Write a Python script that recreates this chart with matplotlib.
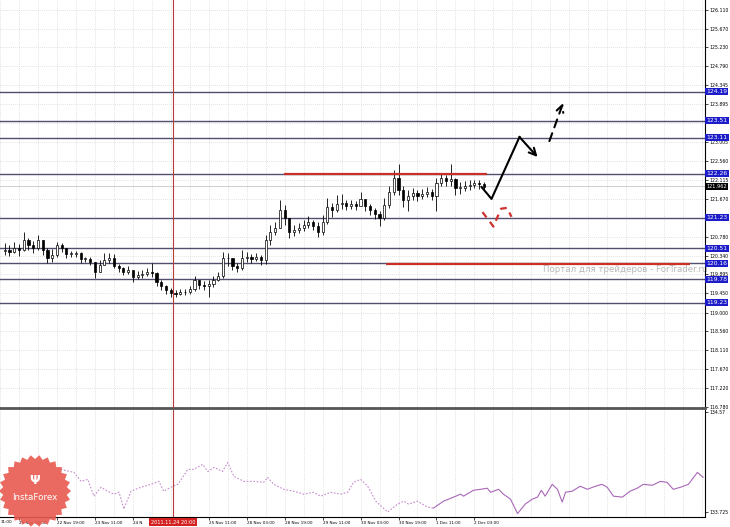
import numpy as np
import matplotlib.pyplot as plt
from matplotlib.patches import Polygon

W, H = 730, 527

# 2-hour bars, bar 0 = 22 Nov 03:00
first_open = 120.45
bar_close = [
    120.47, 120.42, 120.52, 120.47, 120.71, 120.59, 120.52, 120.71, 120.47, 120.28,
    120.35, 120.59, 120.52, 120.38, 120.38, 120.40, 120.26, 120.26, 120.19, 119.95,
    120.12, 120.24, 120.28, 120.09, 120.05, 119.95, 120.00, 119.84, 119.88, 119.91,
    119.95, 119.93, 119.72, 119.62, 119.53, 119.46, 119.44, 119.48, 119.48, 119.55,
    119.77, 119.65, 119.62, 119.67, 119.77, 119.86, 120.28, 120.28, 120.09, 120.05,
    120.28, 120.31, 120.26, 120.31, 120.24, 120.71, 120.89, 120.99, 121.41, 121.22,
    120.89, 120.94, 120.99, 121.06, 121.13, 121.03, 120.89, 121.13, 121.48, 121.41,
    121.55, 121.57, 121.50, 121.55, 121.50, 121.67, 121.50, 121.41, 121.32, 121.22,
    121.53, 121.83, 122.16, 121.88, 121.65, 121.74, 121.81, 121.74, 121.79, 121.83,
    121.74, 122.04, 122.16, 122.09, 122.14, 121.93, 121.93, 121.97, 122.00, 122.04,
    122.02, 121.96]
bar_high = [
    120.63, 120.59, 120.66, 120.61, 120.89, 120.75, 120.68, 120.82, 120.63, 120.52,
    120.49, 120.66, 120.63, 120.47, 120.45, 120.45, 120.42, 120.31, 120.31, 120.19,
    120.24, 120.40, 120.40, 120.38, 120.14, 120.07, 120.09, 120.00, 119.98, 120.00,
    120.05, 120.16, 119.95, 119.77, 119.65, 119.58, 119.53, 119.55, 119.55, 119.62,
    119.86, 119.77, 119.74, 119.77, 119.86, 119.95, 120.42, 120.40, 120.24, 120.16,
    120.47, 120.42, 120.38, 120.40, 120.35, 120.82, 121.06, 121.13, 121.65, 121.53,
    121.22, 121.06, 121.10, 121.18, 121.27, 121.18, 121.13, 121.29, 121.69, 121.57,
    121.76, 121.79, 121.65, 121.65, 121.62, 121.83, 121.65, 121.55, 121.46, 121.39,
    121.69, 121.97, 122.35, 122.49, 121.97, 121.88, 121.93, 121.88, 121.90, 121.95,
    121.90, 122.16, 122.28, 122.23, 122.49, 122.16, 122.07, 122.09, 122.11, 122.11,
    122.11, 122.07]
bar_low = [
    120.35, 120.33, 120.40, 120.33, 120.45, 120.47, 120.40, 120.47, 120.35, 120.16,
    120.19, 120.31, 120.42, 120.28, 120.31, 120.31, 120.16, 120.19, 120.12, 119.81,
    120.00, 120.12, 120.16, 120.05, 119.95, 119.88, 119.91, 119.72, 119.79, 119.81,
    119.86, 119.84, 119.62, 119.53, 119.44, 119.37, 119.37, 119.41, 119.41, 119.44,
    119.51, 119.55, 119.53, 119.37, 119.60, 119.74, 119.81, 120.09, 120.00, 119.95,
    120.00, 120.19, 120.16, 120.21, 120.12, 120.14, 120.59, 120.82, 120.99, 121.06,
    120.75, 120.80, 120.87, 120.92, 120.99, 120.94, 120.78, 120.82, 121.08, 121.25,
    121.36, 121.43, 121.41, 121.43, 121.41, 121.53, 121.39, 121.29, 121.20, 121.03,
    121.18, 121.46, 121.76, 121.76, 121.48, 121.39, 121.65, 121.62, 121.67, 121.72,
    121.65, 121.39, 121.97, 121.97, 121.97, 121.76, 121.79, 121.86, 121.88, 121.93,
    121.90, 121.88]
bar_start = -3

levels = [124.19, 123.51, 123.11, 122.26, 121.23, 120.51, 120.16, 119.78, 119.23]
last_price = 121.962

price_ticks = [126.110, 125.670, 125.230, 124.790, 124.345, 123.895, 123.450, 123.005,
               122.560, 122.115, 121.670, 121.230, 120.780, 120.340, 119.895, 119.450,
               119.000, 118.560, 118.110, 117.670, 117.220, 116.780]
# labels fully hidden behind the level boxes in the screenshot
hidden_ticks = [123.450, 121.230]

time_ticks = [0, 8, 16, 24, 32, 40, 48, 56, 64, 72, 80, 88, 96]
time_labels = ["22 Nov 03:00", "22 Nov 19:00", "23 Nov 11:00", "24 N",
               "", "25 Nov 11:00", "28 Nov 03:00", "28 Nov 19:00",
               "29 Nov 11:00", "30 Nov 03:00", "30 Nov 19:00", "1 Dec 11:00",
               "2 Dec 03:00"]
marker_bar = 32.5

# lower panel indicator
ind_x_dot = [8.8, 11.6, 13.1, 14.5, 15.8, 17.3, 18.7, 20.0, 21.1, 22.1, 23.6, 25.7,
             27.8, 29.5, 30.5, 32.0, 33.5, 35.6, 36.8, 38.7, 39.8, 41.1, 42.9, 44.0,
             45.3, 47.4, 49.5, 51.6, 52.4, 53.7, 55.8, 57.9, 60.0, 62.1, 63.6, 65.7,
             67.8, 69.3, 70.5, 72.0, 73.5, 75.2, 77.7, 79.8, 81.1, 82.1, 84.0, 86.1, 87.4]
ind_y_dot = [134.085, 134.060, 133.984, 134.001, 133.859, 133.934, 133.901, 133.876,
             133.892, 133.750, 133.901, 133.934, 133.959, 133.984, 133.901, 133.934,
             133.959, 134.085, 134.085, 134.127, 134.068, 134.102, 134.068, 134.143,
             134.026, 133.984, 133.984, 133.976, 134.018, 133.959, 133.917, 133.901,
             133.876, 133.892, 133.859, 133.892, 133.876, 133.892, 133.976, 134.001,
             133.943, 133.817, 133.725, 133.792, 133.817, 133.792, 133.817, 133.767,
             133.759]
ind_x_sol = [87.4, 89.5, 91.6, 93.1, 93.7, 95.8, 97.3, 98.7, 99.4, 101.1, 102.1, 103.6,
             105.1, 106.7, 108.2, 109.3, 110.1, 110.9, 112.4, 113.5, 114.5, 115.2, 116.6,
             118.3, 119.8, 121.5, 122.9, 124.0, 125.3, 127.2, 128.8, 130.3, 131.6, 133.5,
             135.2, 136.6, 137.9, 139.4, 141.1, 143.0, 144.2]
ind_y_sol = [133.759, 133.817, 133.851, 133.876, 133.859, 133.909, 133.917, 133.926,
             133.892, 133.917, 133.876, 133.834, 133.712, 133.792, 133.834, 133.851,
             133.909, 133.859, 133.959, 133.917, 133.809, 133.892, 133.901, 133.943,
             133.917, 133.943, 133.959, 133.934, 133.859, 133.851, 133.901, 133.926,
             133.959, 133.951, 133.984, 133.976, 133.917, 133.934, 133.959, 134.060,
             134.018]

# forecast drawings
arrow_x = [97.5, 99.6, 105.5, 109.3]
arrow_y = [121.95, 121.67, 123.125, 122.655]
dash_x = [111.8, 114.7]
dash_y = [123.03, 123.925]
red_path_x = [97.7, 100.0, 101.6, 102.9, 103.8]
red_path_y = [121.36, 121.02, 121.44, 121.46, 121.25]
red_top = (55.8, 98.7, 122.25)
red_bottom = (77.3, 141.5, 120.14)

xmin, xmax = -3.8, 144.6

fig = plt.figure(figsize=(W / 100, H / 100), dpi=100)
ax = fig.add_axes([0, (H - 408) / H, 705 / W, 408 / H])
ax2 = fig.add_axes([0, (H - 517) / H, 705 / W, 107 / H])

grid_kw = dict(color='#c8c8c8', linestyle=(0, (1, 2)), linewidth=0.5)

# ---- main panel
ax.set_xlim(xmin, xmax)
ax.set_ylim(116.756, 126.345)
ax.yaxis.tick_right()
ax.set_yticks(price_ticks)
ax.set_yticklabels(["" if v in hidden_ticks else "%.3f" % v for v in price_ticks])
ax.tick_params(axis='y', labelsize=3.3, length=2, pad=1.5, width=0.5)
ax.set_xticks(time_ticks)
ax.set_xticks(np.arange(-4, 145, 4), minor=True)
ax.tick_params(axis='x', which='both', length=0, labelbottom=False)
ax.grid(True, axis='y', **grid_kw)
ax.grid(True, axis='x', which='both', **grid_kw)
ax.set_axisbelow(True)
for s in ['left', 'top']:
    ax.spines[s].set_visible(False)
ax.spines['right'].set_linewidth(0.8)
ax.spines['bottom'].set_linewidth(2)
ax.spines['bottom'].set_color('#555555')

for lv in levels:
    ax.axhline(lv, color='#50506e', lw=1.0, zorder=2)
ax.axhline(last_price, color='#c8c8c8', lw=0.6, zorder=2)

# candles
xs = np.arange(bar_start, bar_start + len(bar_close))
opens = [first_open] + bar_close[:-1]
for x, o, h, l, c in zip(xs, opens, bar_high, bar_low, bar_close):
    hi = max(h, o, c)
    lo = min(l, o, c)
    ax.vlines(x, lo, hi, color='black', lw=0.6, zorder=3)
    bottom = min(o, c)
    height = max(abs(c - o), 0.012)
    face = 'white' if c >= o else 'black'
    ax.bar(x, height, bottom=bottom, width=0.45, color=face, edgecolor='black',
           linewidth=0.5, zorder=4)

ax.axvline(marker_bar, color='#b83a3a', lw=0.8, zorder=3)
ax2.axvline(marker_bar, color='#b83a3a', lw=0.8, zorder=3)

# red support / resistance
ax.hlines(red_top[2], red_top[0], red_top[1], color='#c83028', lw=1.6, zorder=5)
ax.hlines(red_bottom[2], red_bottom[0], red_bottom[1], color='#c83028', lw=1.6, zorder=5)

# forecast arrows
ax.plot(arrow_x[:-1], arrow_y[:-1], color='black', lw=1.5, zorder=6)
ax.annotate('', xy=(arrow_x[-1], arrow_y[-1]), xytext=(arrow_x[-2], arrow_y[-2]),
            arrowprops=dict(arrowstyle='->,head_length=0.5,head_width=0.25',
                            color='black', lw=1.5, shrinkA=0, shrinkB=0), zorder=6)
ax.annotate('', xy=(dash_x[1], dash_y[1]), xytext=(dash_x[0], dash_y[0]),
            arrowprops=dict(arrowstyle='->,head_length=0.5,head_width=0.25',
                            color='black', lw=1.5, linestyle=(0, (4, 3)),
                            shrinkA=0, shrinkB=0), zorder=6)
ax.plot(red_path_x, red_path_y, color='#d03030', lw=1.6, linestyle=(0, (3, 2.5)), zorder=6)

# watermark
ax.text(110.5, 120.0, "Портал для трейдеров - ForTrader.ru", fontsize=6.2,
        color='#b8b8b8', va='center', ha='left', clip_on=False, zorder=1)

# right labels
for lv in levels:
    ax.text(1.002, lv, "%.2f" % lv, transform=ax.get_yaxis_transform(), fontsize=4.3,
            color='white', va='center', ha='left', zorder=10, clip_on=False,
            bbox=dict(boxstyle='square,pad=0.18', fc='#1c1cc8', ec='none'))
ax.text(1.002, last_price, "%.3f" % last_price, transform=ax.get_yaxis_transform(),
        fontsize=3.6, color='white', va='center', ha='left', zorder=10, clip_on=False,
        bbox=dict(boxstyle='square,pad=0.25', fc='black', ec='none'))

# ---- lower panel
ax2.set_xlim(xmin, xmax)
ax2.set_ylim(133.683, 134.587)
ax2.plot(ind_x_dot, ind_y_dot, color='#c58ccc', lw=0.8, linestyle=(0, (1.5, 1.5)))
ax2.plot(ind_x_sol, ind_y_sol, color='#a868b8', lw=0.8)
ax2.yaxis.tick_right()
ax2.set_yticks([134.57, 133.725])
ax2.set_yticklabels(["134.57", "133.725"])
ax2.tick_params(axis='y', labelsize=3.3, length=2, pad=1.5, width=0.5)
ax2.set_xticks(time_ticks)
ax2.set_xticklabels(time_labels, ha='left')
ax2.set_xticks(np.arange(-4, 145, 4), minor=True)
ax2.tick_params(axis='x', which='major', labelsize=3.0, length=2, pad=1, width=0.5)
ax2.tick_params(axis='x', which='minor', length=0)
ax2.grid(True, axis='x', which='both', **grid_kw)
ax2.set_axisbelow(True)
for s in ['left', 'top']:
    ax2.spines[s].set_visible(False)
ax2.spines['right'].set_linewidth(0.8)
ax2.spines['bottom'].set_linewidth(0.8)

fig.text(1 / W, 1 - 522 / H, "11:00", fontsize=3.0, ha='left', va='center')
fig.text(173 / W, 1 - 522 / H, "2011.11.24 20:00", fontsize=3.6, color='white',
         ha='center', va='center', zorder=10,
         bbox=dict(boxstyle='square,pad=0.3', fc='#d42020', ec='none'))

# InstaForex logo
cx, cy, n = 35, 491, 26
ang = np.linspace(0, 2 * np.pi, 2 * n, endpoint=False)
rad = np.where(np.arange(2 * n) % 2 == 0, 36, 32)
pts = np.column_stack([(cx + rad * np.cos(ang)) / W, 1 - (cy + rad * np.sin(ang)) / H])
fig.add_artist(Polygon(pts, closed=True, transform=fig.transFigure, fc='#e85a50',
                       ec='none', alpha=0.9, zorder=8))
fig.text(cx / W, 1 - 481 / H, "Ψ", fontsize=9, color='white', ha='center', va='center',
         fontweight='bold', zorder=9)
fig.text(cx / W, 1 - 498 / H, "InstaForex", fontsize=6.3, color='white', ha='center',
         va='center', zorder=9)

fig.savefig("out.png", dpi=100)
